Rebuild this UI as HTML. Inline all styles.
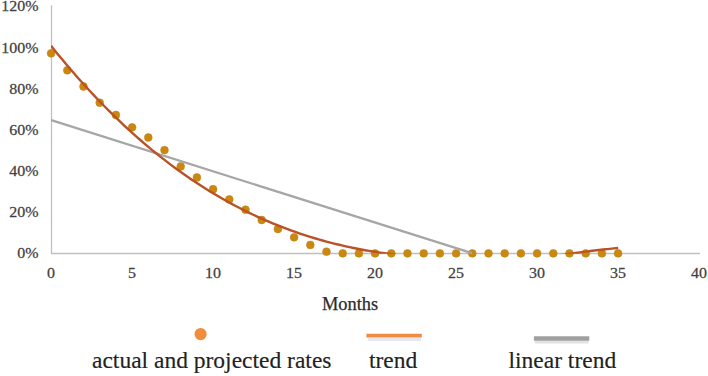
<!DOCTYPE html>
<html><head><meta charset="utf-8"><style>
html,body{margin:0;padding:0;background:#fff;}
body{width:708px;height:376px;overflow:hidden;}
svg{display:block;font-family:"Liberation Serif",serif;}
</style></head><body>
<svg width="708" height="376" viewBox="0 0 708 376">
<defs><clipPath id="pa"><rect x="51" y="0" width="650" height="253.7"/></clipPath></defs>
<rect width="708" height="376" fill="#fff"/>
<g stroke="#c0c0c0" fill="none">
<line x1="51.5" y1="5.3" x2="51.5" y2="253.5" stroke-width="1.3"/>
<line x1="50.9" y1="253.5" x2="700" y2="253.5" stroke-width="1.4"/>
</g>
<g fill="#404040" font-size="15.5" stroke="#404040" stroke-width="0.25"><text transform="translate(38.50,257.90) scale(1.03,1)" text-anchor="end">0%</text><text transform="translate(38.50,216.83) scale(1.03,1)" text-anchor="end">20%</text><text transform="translate(38.50,175.76) scale(1.03,1)" text-anchor="end">40%</text><text transform="translate(38.50,134.69) scale(1.03,1)" text-anchor="end">60%</text><text transform="translate(38.50,93.62) scale(1.03,1)" text-anchor="end">80%</text><text transform="translate(38.50,52.55) scale(1.03,1)" text-anchor="end">100%</text><text transform="translate(38.50,11.48) scale(1.03,1)" text-anchor="end">120%</text><text transform="translate(50.90,278.00) scale(1.03,1)" text-anchor="middle">0</text><text transform="translate(131.90,278.00) scale(1.03,1)" text-anchor="middle">5</text><text transform="translate(212.90,278.00) scale(1.03,1)" text-anchor="middle">10</text><text transform="translate(293.90,278.00) scale(1.03,1)" text-anchor="middle">15</text><text transform="translate(374.90,278.00) scale(1.03,1)" text-anchor="middle">20</text><text transform="translate(455.90,278.00) scale(1.03,1)" text-anchor="middle">25</text><text transform="translate(536.90,278.00) scale(1.03,1)" text-anchor="middle">30</text><text transform="translate(617.90,278.00) scale(1.03,1)" text-anchor="middle">35</text><text transform="translate(698.90,278.00) scale(1.03,1)" text-anchor="middle">40</text></g>
<g font-size="18.4" fill="#2a2a2a" stroke="#2a2a2a" stroke-width="0.25"><text transform="translate(350.00,309.60) scale(1.0,1)" text-anchor="middle">Months</text></g>
<g fill="#cd880c" stroke="#b98628" stroke-width="0.6"><circle cx="51.1" cy="53.3" r="3.9"/><circle cx="67.3" cy="70.3" r="3.9"/><circle cx="83.5" cy="86.5" r="3.9"/><circle cx="99.7" cy="102.7" r="3.9"/><circle cx="115.9" cy="114.9" r="3.9"/><circle cx="132.1" cy="127.3" r="3.9"/><circle cx="148.3" cy="137.5" r="3.9"/><circle cx="164.5" cy="150.1" r="3.9"/><circle cx="180.7" cy="166.4" r="3.9"/><circle cx="196.9" cy="177.5" r="3.9"/><circle cx="213.1" cy="189.2" r="3.9"/><circle cx="229.3" cy="199.4" r="3.9"/><circle cx="245.5" cy="209.7" r="3.9"/><circle cx="261.7" cy="220.0" r="3.9"/><circle cx="277.9" cy="229.0" r="3.9"/><circle cx="294.1" cy="237.3" r="3.9"/><circle cx="310.3" cy="244.9" r="3.9"/><circle cx="326.5" cy="251.7" r="3.9"/><circle cx="342.7" cy="253.4" r="3.9"/><circle cx="358.9" cy="253.4" r="3.9"/><circle cx="375.1" cy="253.4" r="3.9"/><circle cx="391.3" cy="253.4" r="3.9"/><circle cx="407.5" cy="253.4" r="3.9"/><circle cx="423.7" cy="253.4" r="3.9"/><circle cx="439.9" cy="253.4" r="3.9"/><circle cx="456.1" cy="253.4" r="3.9"/><circle cx="472.3" cy="253.4" r="3.9"/><circle cx="488.5" cy="253.4" r="3.9"/><circle cx="504.7" cy="253.4" r="3.9"/><circle cx="520.9" cy="253.4" r="3.9"/><circle cx="537.1" cy="253.4" r="3.9"/><circle cx="553.3" cy="253.4" r="3.9"/><circle cx="569.5" cy="253.4" r="3.9"/><circle cx="585.7" cy="253.4" r="3.9"/><circle cx="601.9" cy="253.4" r="3.9"/><circle cx="618.1" cy="253.4" r="3.9"/></g>
<line x1="51.2" y1="120.2" x2="472" y2="253.1" stroke="#a6a6a6" stroke-width="2.3"/>
<path d="M51.10,45.81 L54.98,50.64 L58.85,55.40 L62.73,60.09 L66.61,64.71 L70.49,69.27 L74.36,73.75 L78.24,78.17 L82.12,82.52 L85.99,86.81 L89.87,91.02 L93.75,95.17 L97.62,99.26 L101.50,103.28 L105.38,107.24 L109.26,111.13 L113.13,114.96 L117.01,118.73 L120.89,122.43 L124.76,126.07 L128.64,129.65 L132.52,133.17 L136.40,136.63 L140.27,140.02 L144.15,143.36 L148.03,146.64 L151.90,149.86 L155.78,153.02 L159.66,156.13 L163.54,159.17 L167.41,162.16 L171.29,165.10 L175.17,167.97 L179.04,170.79 L182.92,173.56 L186.80,176.27 L190.67,178.93 L194.55,181.53 L198.43,184.09 L202.31,186.58 L206.18,189.03 L210.06,191.43 L213.94,193.77 L217.81,196.06 L221.69,198.30 L225.57,200.50 L229.45,202.64 L233.32,204.73 L237.20,206.78 L241.08,208.78 L244.95,210.73 L248.83,212.63 L252.71,214.49 L256.59,216.30 L260.46,218.06 L264.34,219.78 L268.22,221.46 L272.09,223.09 L275.97,224.67 L279.85,226.22 L283.72,227.72 L287.60,229.18 L291.48,230.60 L295.36,231.97 L299.23,233.31 L303.11,234.60 L306.99,235.86 L310.86,237.07 L314.74,238.25 L318.62,239.38 L322.50,240.48 L326.37,241.54 L330.25,242.57 L334.13,243.56 L338.00,244.51 L341.88,245.43 L345.76,246.31 L349.64,247.15 L353.51,247.97 L357.39,248.74 L361.27,249.49 L365.14,250.20 L369.02,250.88 L372.90,251.53 L376.77,252.14 L380.65,252.73 L384.53,253.28 L388.41,253.81 L392.28,254.30 L396.16,254.77 M556.00,255.93 L558.14,255.59 L560.29,255.26 L562.43,254.92 L564.58,254.60 L566.72,254.28 L568.87,253.96 L571.01,253.65 L573.16,253.34 L575.30,253.04 L577.45,252.74 L579.59,252.45 L581.74,252.16 L583.88,251.88 L586.03,251.60 L588.17,251.32 L590.32,251.05 L592.46,250.79 L594.61,250.53 L596.75,250.27 L598.90,250.02 L601.04,249.78 L603.19,249.54 L605.33,249.30 L607.48,249.07 L609.62,248.84 L611.77,248.62 L613.91,248.40 L616.06,248.19 L618.20,247.98" clip-path="url(#pa)" fill="none" stroke="#bb5226" stroke-width="2.4" stroke-linejoin="round"/>
<circle cx="200.6" cy="334.1" r="6.1" fill="#f08c3c"/>
<line x1="368" y1="339.6" x2="421" y2="339.6" stroke="#e6e7f0" stroke-width="3"/>
<line x1="535" y1="342" x2="588.5" y2="342" stroke="#e2e2e2" stroke-width="3"/>
<line x1="366.4" y1="335.6" x2="421.8" y2="335.6" stroke="#f08c41" stroke-width="3.7"/>
<line x1="533.9" y1="338.4" x2="589.3" y2="338.4" stroke="#a0a0a0" stroke-width="4.5"/>
<g font-size="23" fill="#222" stroke="#222" stroke-width="0.15">
<text transform="translate(92.00,367.90) scale(1.022,1)" text-anchor="start">actual and projected rates</text>
<text transform="translate(369.00,367.90) scale(1.022,1)" text-anchor="start">trend</text>
<text transform="translate(508.50,367.90) scale(1.022,1)" text-anchor="start">linear trend</text>
</g>
</svg>
</body></html>
